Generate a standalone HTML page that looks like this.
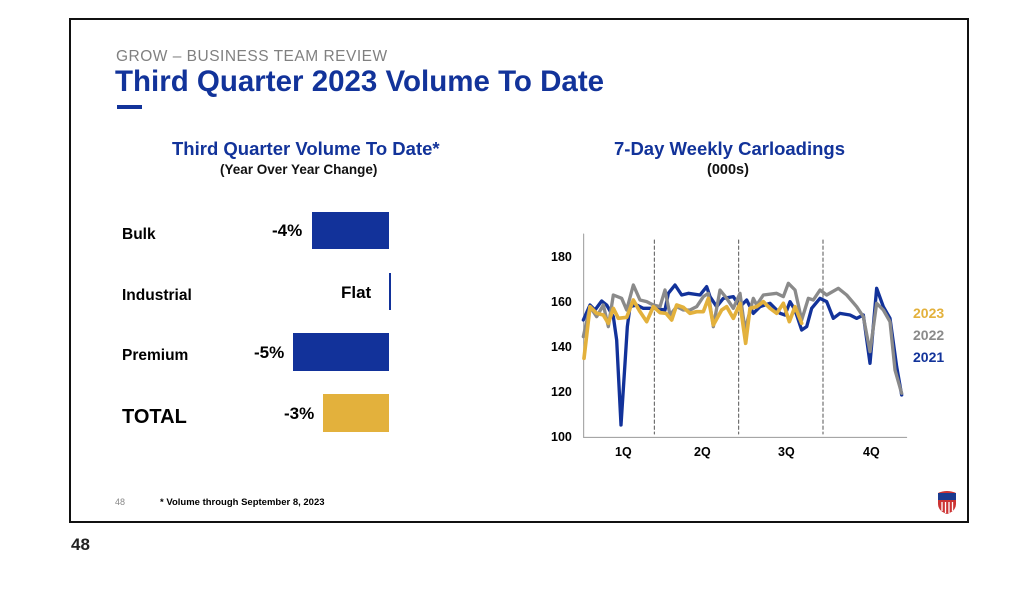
<!DOCTYPE html>
<html><head><meta charset="utf-8"><style>
body{margin:0;width:1024px;height:593px;background:#fff;position:relative;overflow:hidden;font-family:"Liberation Sans",Arial,sans-serif}
.a{position:absolute;white-space:nowrap}
.b{font-weight:bold}
</style></head><body>
<div class="a" style="left:69px;top:18px;width:896px;height:501px;border:2px solid #111"></div>
<div class="a" style="left:116px;top:48px;font-size:15.5px;color:#808080;letter-spacing:0.5px">GROW – BUSINESS TEAM REVIEW</div>
<div class="a b" style="left:115px;top:65px;font-size:29.5px;color:#12339a">Third Quarter 2023 Volume To Date</div>
<div class="a" style="left:117px;top:105px;width:25px;height:4px;background:#12339a"></div>

<div class="a b" style="left:172px;top:138px;font-size:18.5px;color:#12339a">Third Quarter Volume To Date*</div>
<div class="a b" style="left:220px;top:162px;font-size:13.5px;color:#111">(Year Over Year Change)</div>

<div class="a b" style="left:122px;top:226px;font-size:15.5px">Bulk</div>
<div class="a b" style="left:122px;top:287px;font-size:15.5px">Industrial</div>
<div class="a b" style="left:122px;top:347px;font-size:15.5px">Premium</div>
<div class="a b" style="left:122px;top:406px;font-size:20px">TOTAL</div>

<div class="a b" style="left:272px;top:221px;font-size:17px">-4%</div>
<div class="a b" style="left:341px;top:283px;font-size:17px">Flat</div>
<div class="a b" style="left:254px;top:343px;font-size:17px">-5%</div>
<div class="a b" style="left:284px;top:404px;font-size:17px">-3%</div>
<div class="a" style="left:312px;top:212px;width:77px;height:37px;background:#12329a"></div>
<div class="a" style="left:389px;top:273px;width:2px;height:37px;background:#12329a"></div>
<div class="a" style="left:293px;top:333px;width:96px;height:38px;background:#12329a"></div>
<div class="a" style="left:323px;top:394px;width:66px;height:38px;background:#e3b13c"></div>

<div class="a b" style="left:614px;top:138px;font-size:18.5px;color:#12339a">7-Day Weekly Carloadings</div>
<div class="a b" style="left:707px;top:162px;font-size:14.5px;color:#111">(000s)</div>

<div class="a b" style="left:551px;top:250px;font-size:12.5px">180</div>
<div class="a b" style="left:551px;top:295px;font-size:12.5px">160</div>
<div class="a b" style="left:551px;top:340px;font-size:12.5px">140</div>
<div class="a b" style="left:551px;top:385px;font-size:12.5px">120</div>
<div class="a b" style="left:551px;top:430px;font-size:12.5px">100</div>
<div class="a b" style="left:615px;top:445px;font-size:12.5px">1Q</div>
<div class="a b" style="left:694px;top:445px;font-size:12.5px">2Q</div>
<div class="a b" style="left:778px;top:445px;font-size:12.5px">3Q</div>
<div class="a b" style="left:863px;top:445px;font-size:12.5px">4Q</div>
<div class="a b" style="left:913px;top:305px;font-size:14px;color:#e3b13c">2023</div>
<div class="a b" style="left:913px;top:327px;font-size:14px;color:#8a8a8a">2022</div>
<div class="a b" style="left:913px;top:349px;font-size:14px;color:#12339a">2021</div>

<svg class="a" style="left:540px;top:230px" width="420" height="230" viewBox="0 0 1260 690">
<g fill="none" stroke-linejoin="round" stroke-linecap="round">
<line x1="131" y1="12" x2="131" y2="622" stroke="#999" stroke-width="3"/>
<line x1="131" y1="622" x2="1100" y2="622" stroke="#999" stroke-width="3"/>
<g stroke="#555" stroke-width="3" stroke-dasharray="10,8">
<line x1="343" y1="30" x2="343" y2="612"/><line x1="596" y1="30" x2="596" y2="612"/><line x1="849" y1="30" x2="849" y2="612"/></g>
<polyline stroke="#12329a" stroke-width="10" points="130,270 150,225 165,240 185,213 200,225 220,260 230,330 243,585 255,400 262,290 270,230 290,225 310,235 340,235 375,240 385,190 405,165 425,195 445,190 480,195 500,170 510,200 530,230 550,205 580,200 600,230 620,210 640,250 660,230 690,220 720,250 735,255 750,215 765,240 785,300 800,290 815,235 840,205 860,215 880,265 900,250 930,255 950,265 970,255 990,400 1010,175 1030,230 1050,265 1070,410 1085,495"/>
<polyline stroke="#8a8a8a" stroke-width="10" points="130,320 150,230 170,260 190,225 205,290 220,195 245,205 260,240 280,165 300,210 320,215 340,225 360,230 375,180 390,255 410,230 430,240 450,240 470,230 490,200 505,190 520,290 540,180 560,205 580,235 600,190 615,300 640,205 650,225 670,195 710,190 730,200 745,160 765,180 785,270 805,205 820,210 840,180 860,195 895,175 920,195 950,230 970,260 990,365 1010,220 1030,240 1050,275 1065,420 1085,490"/>
<polyline stroke="#e3b13c" stroke-width="11" points="132,385 150,230 170,250 190,255 205,280 220,235 235,265 260,262 280,210 300,245 320,275 340,230 360,248 378,250 395,270 410,225 430,232 450,250 470,245 490,245 505,205 520,285 545,240 560,230 580,265 600,220 617,340 630,235 650,230 670,215 690,235 710,250 730,220 748,275 765,230 785,280"/>
</g></svg>

<div class="a" style="left:115px;top:497px;font-size:9px;color:#888">48</div>
<div class="a b" style="left:160px;top:497px;font-size:9.5px">* Volume through September 8, 2023</div>
<svg class="a" style="left:936px;top:490px" width="22" height="25" viewBox="0 0 22 25">
<path d="M2 3 Q11 -1 20 3 L20 14 Q20 21 11 24 Q2 21 2 14Z" fill="#c33"/>
<rect x="2" y="3" width="18" height="7" fill="#1b3a8f"/>
<g stroke="#fff" stroke-width="1.3"><line x1="6" y1="12" x2="6" y2="21"/><line x1="9.5" y1="12" x2="9.5" y2="23"/><line x1="13" y1="12" x2="13" y2="23"/><line x1="16.5" y1="12" x2="16.5" y2="21"/></g>
</svg>
<div class="a b" style="left:71px;top:535px;font-size:17px;color:#222">48</div>
</body></html>
